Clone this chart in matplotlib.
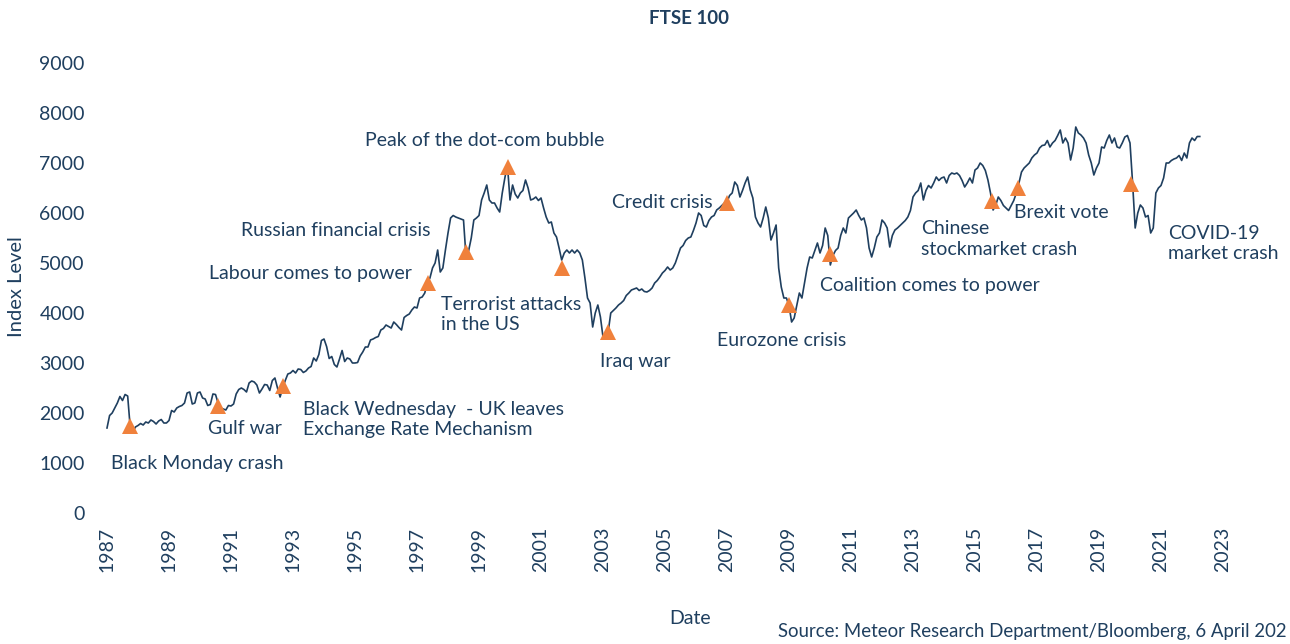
import numpy as np
import matplotlib
matplotlib.use('Agg')
import matplotlib.pyplot as plt

plt.rcParams['font.family'] = ['Lato', 'DejaVu Sans']

NAVY = '#1f3f5f'
ORANGE = '#f0813c'

# monthly FTSE 100 levels, Jan 1987 .. Apr 2022
ftse = {
    1987: [1700, 1950, 2000, 2100, 2200, 2330, 2250, 2370, 2340, 1700, 1620, 1720],
    1988: [1750, 1790, 1760, 1820, 1800, 1860, 1830, 1780, 1840, 1870, 1800, 1800],
    1989: [1850, 2050, 2020, 2100, 2130, 2150, 2200, 2400, 2420, 2180, 2200, 2400],
    1990: [2420, 2300, 2280, 2150, 2170, 2380, 2370, 2200, 2100, 2080, 2060, 2150],
    1991: [2140, 2180, 2380, 2470, 2500, 2470, 2420, 2600, 2640, 2620, 2560, 2400],
    1992: [2480, 2570, 2560, 2450, 2650, 2700, 2500, 2320, 2500, 2650, 2780, 2800],
    1993: [2850, 2800, 2880, 2870, 2810, 2840, 2900, 2930, 3100, 3040, 3170, 3450],
    1994: [3480, 3330, 3090, 3130, 2970, 2920, 3080, 3250, 3030, 3100, 3080, 3000],
    1995: [3000, 3010, 3140, 3220, 3320, 3320, 3460, 3480, 3510, 3530, 3660, 3690],
    1996: [3760, 3730, 3700, 3820, 3770, 3710, 3660, 3910, 3950, 3980, 4060, 4120],
    1997: [4100, 4300, 4320, 4400, 4600, 4700, 4900, 5000, 5260, 4820, 4900, 5260],
    1998: [5600, 5900, 5950, 5920, 5900, 5880, 5860, 5100, 5250, 5500, 5860, 5900],
    1999: [5950, 6260, 6400, 6560, 6260, 6200, 6200, 6100, 6020, 6400, 6700, 6960],
    2000: [6260, 6560, 6380, 6300, 6400, 6450, 6660, 6500, 6260, 6280, 6320, 6250],
    2001: [6300, 6100, 5920, 5800, 5820, 5600, 5520, 5300, 5060, 5200, 5260, 5200],
    2002: [5260, 5200, 5260, 5200, 5060, 4700, 4300, 4200, 3720, 4000, 4160, 3920],
    2003: [3520, 3600, 3620, 4000, 4050, 4100, 4160, 4200, 4250, 4350, 4400, 4460],
    2004: [4480, 4500, 4450, 4480, 4430, 4420, 4450, 4500, 4600, 4650, 4720, 4800],
    2005: [4850, 4920, 4860, 4900, 5000, 5150, 5300, 5350, 5450, 5500, 5520, 5650],
    2006: [5800, 6000, 5950, 5750, 5720, 5850, 5920, 5950, 6060, 6100, 6150, 6200],
    2007: [6220, 6350, 6400, 6620, 6550, 6320, 6450, 6600, 6720, 6460, 6300, 5920],
    2008: [5800, 5720, 5900, 6120, 5900, 5460, 5600, 5760, 4900, 4520, 4300, 4300],
    2009: [4150, 3820, 3900, 4150, 4400, 4300, 4600, 4900, 5120, 5100, 5250, 5400],
    2010: [5200, 5350, 5700, 5550, 4960, 5150, 5250, 5300, 5550, 5700, 5600, 5900],
    2011: [5950, 6000, 6060, 5950, 5860, 5900, 5700, 5300, 5120, 5300, 5520, 5600],
    2012: [5860, 5800, 5700, 5320, 5550, 5660, 5700, 5750, 5800, 5850, 5920, 6050],
    2013: [6320, 6400, 6450, 6600, 6260, 6450, 6550, 6500, 6600, 6720, 6650, 6700],
    2014: [6720, 6600, 6750, 6800, 6780, 6800, 6750, 6650, 6520, 6600, 6700, 6600],
    2015: [6860, 6900, 7000, 6950, 6850, 6660, 6400, 6060, 6150, 6320, 6250, 6150],
    2016: [6100, 6050, 6150, 6250, 6400, 6600, 6820, 6900, 6950, 7000, 7100, 7160],
    2017: [7200, 7300, 7350, 7360, 7450, 7320, 7400, 7450, 7550, 7660, 7400, 7500],
    2018: [7400, 7060, 7300, 7720, 7600, 7560, 7500, 7400, 7160, 7000, 6760, 6900],
    2019: [7000, 7320, 7300, 7450, 7560, 7400, 7500, 7320, 7300, 7400, 7520, 7550],
    2020: [7400, 6600, 5700, 6000, 6160, 6100, 5920, 5950, 5600, 5700, 6400, 6500],
    2021: [6550, 6700, 7000, 7000, 7050, 7080, 7100, 7150, 7050, 7200, 7100, 7400],
    2022: [7500, 7450, 7530, 7530],
}

dates = []
levels = []
for yr, vals in ftse.items():
    for m, v in enumerate(vals):
        dates.append(yr + m / 12)
        levels.append(v)

# events: label text, date, level, and where the label sits
ev_labels = ['Black Monday crash', 'Gulf war', 'Black Wednesday  - UK leaves\nExchange Rate Mechanism',
             'Labour comes to power', 'Russian financial crisis', 'Peak of the dot-com bubble',
             'Terrorist attacks\nin the US', 'Iraq war', 'Credit crisis', 'Eurozone crisis',
             'Coalition comes to power', 'Chinese\nstockmarket crash', 'Brexit vote',
             'COVID-19\nmarket crash']
ev_dates = [1987.74, 1990.58, 1992.68, 1997.35, 1998.58, 1999.94, 2001.68, 2003.16,
            2007.0, 2009.0, 2010.32, 2015.55, 2016.39, 2020.03]
ev_levels = [1740, 2140, 2540, 4600, 5220, 6920, 4900, 3620, 6200, 4160, 5180, 6240, 6500, 6580]
lab_x = [1987.13, 1990.26, 1993.32, 1990.29, 1991.32, 1995.32, 1997.77, 2002.90,
         2003.29, 2006.68, 2010.0, 2013.26, 2016.26, 2021.23]
lab_y = [1000, 1700, 1870, 4780, 5640, 7440, 3970, 3020, 6200, 3440, 4560, 5480, 6000, 5390]

fig = plt.figure(figsize=(12.9, 6.44), dpi=100)
ax = fig.add_axes([100 / 1290, 1 - 513 / 644, 1140 / 1290, 450 / 644])

ax.plot(dates, levels, color=NAVY, lw=1.2, zorder=2)
ax.plot(ev_dates, ev_levels, ls='none', marker='^', ms=12, color=ORANGE,
        markeredgewidth=0, zorder=3)

for txt, x, y in zip(ev_labels, lab_x, lab_y):
    ax.text(x, y, txt, fontsize=14, color=NAVY, ha='left', va='center',
            linespacing=1.25)

ax.set_xlim(1986.774, 2023.548)
ax.set_ylim(0, 9000)
ax.set_xticks(np.arange(1987, 2024, 2))
ax.set_yticks(np.arange(0, 9001, 1000))
ax.tick_params(axis='both', length=0, labelsize=14, labelcolor=NAVY)
ax.tick_params(axis='y', pad=11)
ax.tick_params(axis='x', pad=10, labelrotation=90)
for s in ax.spines.values():
    s.set_visible(False)

fig.text(17 / 1290, 1 - 287 / 644, 'Index Level', rotation=90, fontsize=14.5,
         color=NAVY, ha='center', va='center')
fig.text(690 / 1290, 1 - 618 / 644, 'Date', fontsize=14, color=NAVY,
         ha='center', va='center')
fig.text(689 / 1290, 1 - 18 / 644, 'FTSE 100', fontsize=13.5, fontweight='bold',
         color=NAVY, ha='center', va='center')
fig.text(1287 / 1290, 1 - 632 / 644, 'Source: Meteor Research Department/Bloomberg, 6 April 202',
         fontsize=13.4, color=NAVY, ha='right', va='center')

fig.savefig('out.png', dpi=100)
